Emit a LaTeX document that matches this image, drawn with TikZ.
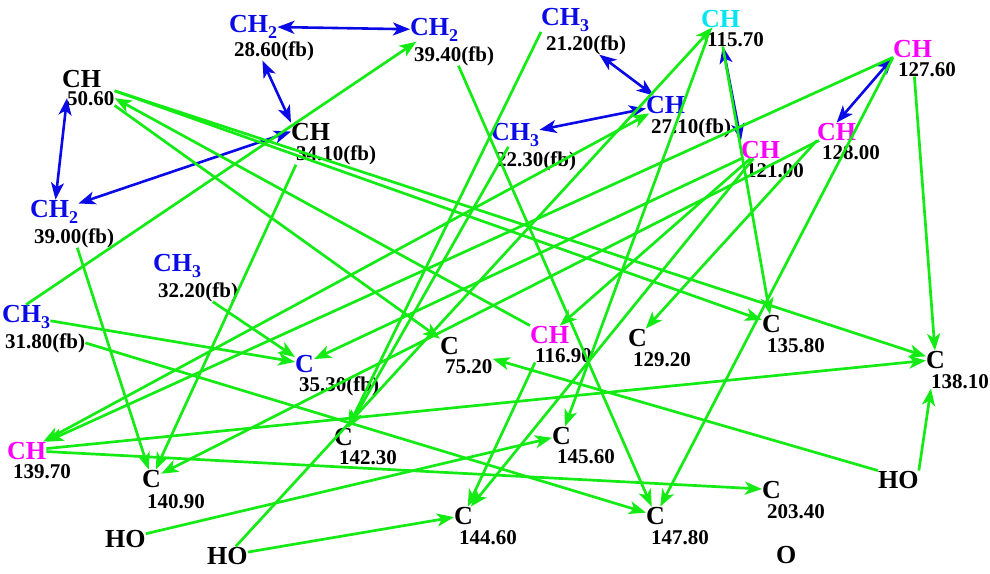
\documentclass[tikz,border=0pt]{standalone}
\usepackage{fontspec}
\setmainfont{Liberation Serif}
\usetikzlibrary{arrows.meta}
\definecolor{grn}{RGB}{20,235,20}
\definecolor{blu}{RGB}{10,10,230}
\definecolor{cyn}{RGB}{0,230,240}
\definecolor{mag}{RGB}{250,0,250}
\newcommand\atomfont{\fontsize{26}{26}\selectfont\bfseries}
\newcommand\numfont{\fontsize{21}{21}\selectfont\bfseries}
\newcommand\mysub[1]{\raisebox{-6.5pt}{\fontsize{18}{18}\selectfont #1}}
\tikzset{
  atom/.style={anchor=base west, inner sep=0pt, font=\atomfont},
  num/.style={anchor=base west, inner sep=0pt, font=\numfont, text=black},
  tipg/.tip={Stealth[length=17pt,width=13pt,inset=4.5pt]},
  hmbc/.style={draw=grn, line width=2.7pt, -tipg},
  hmbcb/.style={draw=grn, line width=2.7pt, tipg-tipg},
  cosy/.style={draw=blu, line width=2.6pt, tipg-tipg},
}
\begin{document}
\begin{tikzpicture}[x=1pt,y=-1pt]
\useasboundingbox (0,0) rectangle (990,573);
% nodes
\node[atom,text=blu] (c286) at (229,32) {CH\mysub{2}};
\node[num] (c286n) at (234,56) {28.60(fb)};
\node[atom,text=blu] (c394) at (410,35) {CH\mysub{2}};
\node[num] (c394n) at (414,61) {39.40(fb)};
\node[atom] (c506) at (62,87) {CH};
\node[num] (c506n) at (67,105) {50.60};
\node[atom] (c341) at (291,140) {CH};
\node[num] (c341n) at (296,160) {34.10(fb)};
\node[atom,text=blu] (c390) at (30,217) {CH\mysub{2}};
\node[num] (c390n) at (34,243) {39.00(fb)};
\node[atom,text=blu] (c322) at (153,271) {CH\mysub{3}};
\node[num] (c322n) at (158,297) {32.20(fb)};
\node[atom,text=blu] (c318) at (2,322) {CH\mysub{3}};
\node[num] (c318n) at (5,348) {31.80(fb)};
\node[atom,text=blu] (c212) at (541,25) {CH\mysub{3}};
\node[num] (c212n) at (546,50) {21.20(fb)};
\node[atom,text=blu] (c271) at (646,113) {CH};
\node[num] (c271n) at (651,133) {27.10(fb)};
\node[atom,text=blu] (c223) at (491,140) {CH\mysub{3}};
\node[num] (c223n) at (496,166) {22.30(fb)};
\node[atom,text=cyn] (c1157) at (701,27) {CH};
\node[num] (c1157n) at (707,46) {115.70};
\node[atom,text=mag] (c1276) at (893,57) {CH};
\node[num] (c1276n) at (898,76) {127.60};
\node[atom,text=mag] (c1280) at (817,140) {CH};
\node[num] (c1280n) at (822,159) {128.00};
\node[atom,text=mag] (c1210) at (741,158) {CH};
\node[num] (c1210n) at (746,177) {121.00};
\node[atom,text=mag] (c1169) at (530,343) {CH};
\node[num] (c1169n) at (535,362) {116.90};
\node[atom] (c1292) at (628,346) {C};
\node[num] (c1292n) at (633,366) {129.20};
\node[atom] (c1358) at (762,332) {C};
\node[num] (c1358n) at (767,352) {135.80};
\node[atom] (c1381) at (926,368) {C};
\node[num] (c1381n) at (931,388) {138.10};
\node[atom] (c752) at (440,354) {C};
\node[num] (c752n) at (445,373) {75.20};
\node[atom,text=blu] (c353) at (295,372) {C};
\node[num] (c353n) at (299,391) {35.30(fb)};
\node[atom,text=mag] (c1397) at (7,459) {CH};
\node[num] (c1397n) at (13,478) {139.70};
\node[atom] (c1409) at (142,487) {C};
\node[num] (c1409n) at (147,508) {140.90};
\node[atom] (c1423) at (334,445) {C};
\node[num] (c1423n) at (339,464) {142.30};
\node[atom] (c1456) at (552,444) {C};
\node[num] (c1456n) at (557,463) {145.60};
\node[atom] (c1446) at (454,524) {C};
\node[num] (c1446n) at (459,544) {144.60};
\node[atom] (c1478) at (646,524) {C};
\node[num] (c1478n) at (651,544) {147.80};
\node[atom] (c2034) at (762,498) {C};
\node[num] (c2034n) at (767,518) {203.40};
\node[atom] (hoL) at (105,547) {HO};
\node[atom] (hoM) at (207,564) {HO};
\node[atom] (hoR) at (878,488) {HO};
\node[atom] (oxy) at (776,563) {O};
% COSY (blue)
\draw[cosy] (c286) -- (c394);
\draw[cosy] (c286n.-140) -- (c341.north west);
\draw[cosy] (c506n.west) -- (c390);
\draw[cosy] (c341.west) -- (c390);
\draw[cosy] (c212n) -- (c271);
\draw[cosy] (c271) -- (c223);
\draw[cosy] (c1157n.-150) -- (c1210.north west);
\draw[cosy] (c1276.south west) -- (c1280.north);
% HMBC (green)
\draw[hmbc] (c318.north) -- (c394);
\draw[hmbc] (c390n) -- (c1409);
\draw[hmbc] (c341n.south west) -- (c1409);
\draw[hmbc] (c1169.north west) -- (c506n.east);
\draw[hmbc] (c506n.south east) -- (c752);
\draw[hmbc] (c506n.north east) -- (c1358);
\draw[hmbc] (c506n.north east) -- (c1381);
\draw[hmbc] (c322n) -- (c353);
\draw[hmbc] (c318) -- (c353);
\draw[hmbc] (c318n.east) -- (c1478);
\draw[hmbc] (c1210) -- (c353);
\draw[hmbc] (c1280) -- (c1409);
\draw[hmbcb] (c1397) -- (c271);
\draw[hmbc] (c1276) -- (c1397);
\draw[hmbc] (c1397) -- (c1381);
\draw[hmbc] (c1397) -- (c2034);
\draw[hmbc] (c212.south west) -- (c1423);
\draw[hmbc] (c223) -- (c1423);
\draw[hmbc] (hoM) -- (c1157);
\draw[hmbc] (hoM) -- (c1446);
\draw[hmbc] (hoL) -- (c1456);
\draw[hmbc] (c1157n.west) -- (c1456);
\draw[hmbc] (c1157n.-150) -- (c1358);
\draw[hmbc] (c1169n.south west) -- (c1446);
\draw[hmbc] (c1210) -- (c1446);
\draw[hmbc] (c1210) -- (c1169);
\draw[hmbc] (c394n) -- (c1478);
\draw[hmbc] (c1276.south west) -- (c1478);
\draw[hmbc] (c1280.south west) -- (c1292);
\draw[hmbc] (c1276n.-150) -- (c1381);
\draw[hmbc] (hoR.north east) -- (c1381n.south west);
\draw[hmbc] (hoR.north west) -- (c752n.north east);
\end{tikzpicture}
\end{document}
